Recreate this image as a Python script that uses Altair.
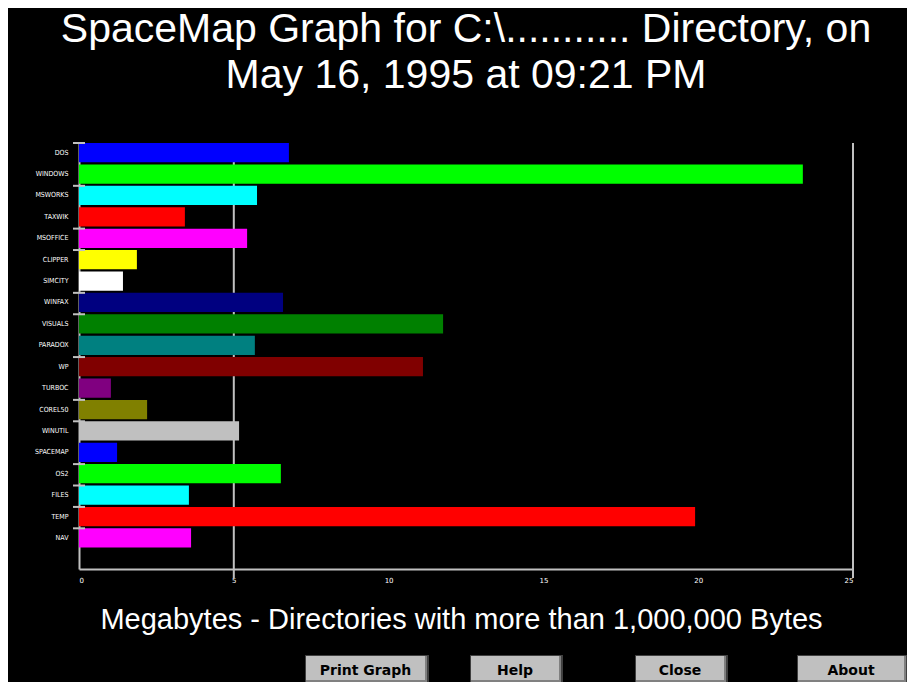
import altair as alt
import pandas as pd

# ---------------- data ----------------
title_lines = ["SpaceMap Graph for C:\\........... Directory, on",
               "May 16, 1995 at 09:21 PM"]
x_title = "Megabytes - Directories with more than 1,000,000 Bytes"

dirs = ["DOS", "WINDOWS", "MSWORKS", "TAXWIK", "MSOFFICE", "CLIPPER",
        "SIMCITY", "WINFAX", "VISUALS", "PARADOX", "WP", "TURBOC",
        "COREL50", "WINUTIL", "SPACEMAP", "OS2", "FILES", "TEMP", "NAV"]
megabytes = [6.78, 23.38, 5.75, 3.42, 5.43, 1.87, 1.42, 6.59, 11.76, 5.68,
             11.11, 1.03, 2.20, 5.17, 1.23, 6.52, 3.55, 19.90, 3.62]
bar_colors = ["#0000FF", "#00FF00", "#00FFFF", "#FF0000", "#FF00FF", "#FFFF00",
              "#FFFFFF", "#000080", "#008000", "#008080", "#800000", "#800080",
              "#808000", "#C0C0C0", "#0000FF", "#00FF00", "#00FFFF", "#FF0000",
              "#FF00FF"]
x_ticks = [0, 5, 10, 15, 20, 25]
grid_values = [5, 25]
tick_rows = ["DOS", "MSWORKS", "MSOFFICE", "CLIPPER", "WINFAX", "VISUALS", "WP",
             "COREL50", "WINUTIL", "OS2", "FILES", "TEMP", "NAV"]
buttons = ["Print Graph", "Help", "Close", "About"]

# ---------------- layout ----------------
W, H = 774, 426
PAD = {"left": 71, "top": 135, "right": 54, "bottom": 113}
y_domain = dirs + [" "]

df = pd.DataFrame({"dir": dirs, "mb": megabytes, "color": bar_colors})
ydef = dict(scale=alt.Scale(domain=y_domain, paddingInner=0.1, paddingOuter=0))

bars = alt.Chart(df).mark_bar().encode(
    y=alt.Y("dir:N", sort=y_domain,
            axis=alt.Axis(title=None, ticks=False, grid=False, domainColor="#C0C0C0",
                          domainWidth=2, labelColor="white", labelFontSize=7,
                          labelFont="DejaVu Sans Condensed", labelPadding=11),
            **ydef),
    x=alt.X("mb:Q", scale=alt.Scale(domain=[0, 25], nice=False),
            axis=alt.Axis(values=x_ticks, ticks=False, grid=False, domainColor="#C0C0C0",
                          domainWidth=2, labelColor="white", labelFontSize=7,
                          labelFont="DejaVu Sans", labelPadding=7,
                          title=x_title, titleColor="white", titleFontSize=29,
                          titleFont="Liberation Sans", titleFontWeight="normal",
                          titleX=382, titleY=59, titleBaseline="alphabetic",
                          titleAlign="center")),
    color=alt.Color("color:N", scale=None),
)

grid = alt.Chart(pd.DataFrame({"v": grid_values})).mark_rule(
    color="#C0C0C0", strokeWidth=2
).encode(x=alt.X("v:Q"), y=alt.value(0), y2=alt.value(H + 9))

ticks = alt.Chart(pd.DataFrame({"dir": tick_rows})).mark_rule(
    color="#C0C0C0", strokeWidth=2
).encode(y=alt.Y("dir:N", bandPosition=0, **ydef), x=alt.value(-6), x2=alt.value(6))

# buttons (UI chrome, pixel geometry relative to the plot area)
btn_geom = [(226, 349), (391, 483), (556, 648), (718, 828)]
btn_layers = []
for label, (x0, x1) in zip(buttons, btn_geom):
    d = pd.DataFrame({"label": [label]})
    top, bot = 512, 539
    btn_layers.append(alt.Chart(d).mark_rect(color="#404040").encode(
        x=alt.value(x0), x2=alt.value(x1 + 1), y=alt.value(top), y2=alt.value(bot)))
    btn_layers.append(alt.Chart(d).mark_rect(color="#808080").encode(
        x=alt.value(x0 + 1), x2=alt.value(x1 - 1), y=alt.value(top + 1), y2=alt.value(bot)))
    btn_layers.append(alt.Chart(d).mark_rect(color="#C0C0C0").encode(
        x=alt.value(x0 + 1), x2=alt.value(x1 - 3), y=alt.value(top + 1), y2=alt.value(bot - 2)))
    btn_layers.append(alt.Chart(d).mark_text(
        font="DejaVu Sans", fontWeight="bold", fontSize=14, color="black",
        baseline="alphabetic", align="center"
    ).encode(text="label:N", x=alt.value((x0 + x1) / 2 - 1), y=alt.value(top + 20)))

chart = alt.layer(grid, bars, ticks, *btn_layers).properties(
    width=W, height=H,
    autosize=alt.AutoSizeParams(type="none"),
    padding=PAD,
    background="black",
    title=alt.TitleParams(text=title_lines, fontSize=41, font="Liberation Sans",
                          fontWeight="normal", color="white", anchor="middle",
                          lineHeight=46, baseline="alphabetic", offset=13),
).configure_view(stroke=None)

chart.save("out.html", embed_options={"renderer": "svg", "actions": False})
